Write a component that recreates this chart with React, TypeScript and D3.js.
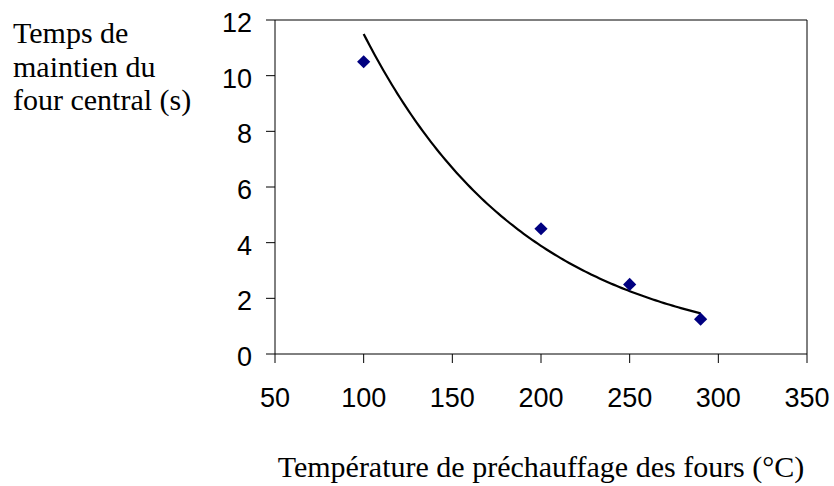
import React from "react";
import * as d3 from "d3";

const temperatures = [100, 200, 250, 290];
const holdTimes = [10.5, 4.5, 2.5, 1.25];
const xTicks = [50, 100, 150, 200, 250, 300, 350];
const yTicks = [0, 2, 4, 6, 8, 10, 12];
const yTitleLines = ["Temps de", "maintien du", "four central (s)"];
const xTitle = "Température de préchauffage des fours (°C)";

const W = 834;
const H = 486;
const left = 275;
const right = 807;
const top = 20;
const bottom = 354;

export default function App() {
  const x = d3.scaleLinear().domain([50, 350]).range([left, right]);
  const y = d3.scaleLinear().domain([0, 12]).range([bottom, top]);

  // exponential trendline (least squares on ln y), as the spreadsheet does
  const lnY = holdTimes.map((v) => Math.log(v));
  const mx = d3.mean(temperatures) as number;
  const my = d3.mean(lnY) as number;
  let sxy = 0;
  let sxx = 0;
  temperatures.forEach((t, i) => {
    sxy += (t - mx) * (lnY[i] - my);
    sxx += (t - mx) * (t - mx);
  });
  const b = sxy / sxx;
  const a = Math.exp(my - b * mx);
  const x0 = d3.min(temperatures) as number;
  const x1 = d3.max(temperatures) as number;
  const samples = d3.range(x0, x1 + 0.001, (x1 - x0) / 120);
  const trend = samples.map((t) => [t, a * Math.exp(b * t)] as [number, number]);
  const line = d3
    .line<[number, number]>()
    .x((d) => x(d[0]))
    .y((d) => y(d[1]));

  const diamond = d3.symbol().type(d3.symbolDiamond2 ?? d3.symbolDiamond).size(90)();
  const sq = 6.6;

  return (
    <svg
      width={W}
      height={H}
      style={{ position: "absolute", left: 0, top: 0, background: "#fff" }}
    >
      <rect x={0} y={0} width={W} height={H} fill="#fff" />
      {/* frame */}
      <line x1={left} x2={right} y1={top} y2={top} stroke="#000" strokeWidth={1} />
      <line x1={right} x2={right} y1={top} y2={bottom} stroke="#000" strokeWidth={1} />
      {/* axes */}
      <line x1={left} x2={left} y1={top} y2={bottom} stroke="#000" strokeWidth={1} />
      <line x1={left} x2={right} y1={bottom} y2={bottom} stroke="#000" strokeWidth={1} />
      {yTicks.map((t) => (
        <g key={"y" + t}>
          <line x1={left - 9} x2={left} y1={y(t)} y2={y(t)} stroke="#000" />
          <text
            x={left - 23}
            y={y(t) + 12}
            textAnchor="end"
            fontFamily="'Liberation Sans', Arial, sans-serif"
            fontSize={27}
            fill="#000"
          >
            {t}
          </text>
        </g>
      ))}
      {xTicks.map((t) => (
        <g key={"x" + t}>
          <line x1={x(t)} x2={x(t)} y1={bottom} y2={bottom + 9} stroke="#000" />
          <text
            x={x(t)}
            y={bottom + 52.5}
            textAnchor="middle"
            fontFamily="'Liberation Sans', Arial, sans-serif"
            fontSize={27}
            fill="#000"
          >
            {t}
          </text>
        </g>
      ))}
      <path d={line(trend) ?? ""} fill="none" stroke="#000" strokeWidth={2.2} />
      {temperatures.map((t, i) => (
        <path
          key={"p" + t}
          d={`M${x(t)},${y(holdTimes[i]) - sq}L${x(t) + sq},${y(holdTimes[i])}L${x(t)},${y(holdTimes[i]) + sq}L${x(t) - sq},${y(holdTimes[i])}Z`}
          fill="#000080"
        />
      ))}
      {yTitleLines.map((s, i) => (
        <text
          key={s}
          x={13}
          y={43 + i * 33.6}
          fontFamily="'Liberation Serif', 'Times New Roman', serif"
          fontSize={30}
          fill="#000"
        >
          {s}
        </text>
      ))}
      <text
        x={(left + right) / 2}
        y={477}
        textAnchor="middle"
        fontFamily="'Liberation Serif', 'Times New Roman', serif"
        fontSize={30}
        fill="#000"
      >
        {xTitle}
      </text>
    </svg>
  );
}
